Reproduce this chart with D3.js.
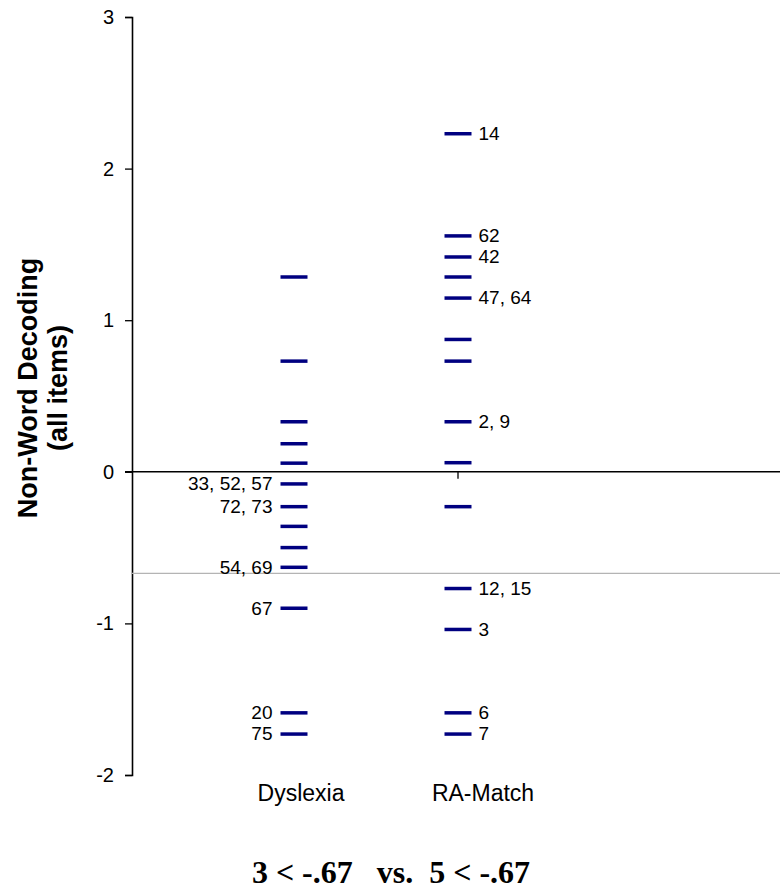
<!DOCTYPE html>
<html>
<head>
<meta charset="utf-8">
<script src="https://cdn.jsdelivr.net/npm/d3@7"></script>
<style>
  body { margin: 0; background: #fff; }
  svg { display: block; font-family: "Liberation Sans", Arial, sans-serif; }
</style>
</head>
<body>
<div class="chart"></div>
<script>
const width = 780;
const height = 893;

// groups on the x axis
const groups = ["Dyslexia", "RA-Match"];

// z scores, with subject labels ("" = no label)
const dyslexiaValues = [1.285, 0.73, 0.33, 0.185, 0.057, -0.08, -0.23, -0.36, -0.50, -0.63, -0.90, -1.59, -1.73];
const dyslexiaLabels = ["", "", "", "", "", "33, 52, 57", "72, 73", "", "", "54, 69", "67", "20", "75"];

const raValues = [2.23, 1.556, 1.417, 1.285, 1.146, 0.873, 0.73, 0.33, 0.06, -0.23, -0.77, -1.04, -1.59, -1.73];
const raLabels = ["14", "62", "42", "", "47, 64", "", "", "2, 9", "", "", "12, 15", "3", "6", "7"];

const yTicks = [-2, -1, 0, 1, 2, 3];
const cutoff = -0.67;
const yTitle = ["Non-Word Decoding", "(all items)"];
const footer = "3 < -.67   vs.  5 < -.67";

const data = [
  ...dyslexiaValues.map((v, i) => ({group: "Dyslexia", value: v, label: dyslexiaLabels[i]})),
  ...raValues.map((v, i) => ({group: "RA-Match", value: v, label: raLabels[i]}))
];

const svg = d3.select(".chart")
  .append("svg")
  .attr("width", width)
  .attr("height", height);

// SCALES
const y = d3.scaleLinear().domain([-2, 3]).range([775, 17]);
const x = d3.scalePoint().domain(groups).range([294, 458]);
const xLabel = d3.scalePoint().domain(groups).range([301, 483]);
const axisX = 132;
const markW = 27;

// y axis
const yAxis = d3.axisLeft(y)
  .tickValues(yTicks)
  .tickFormat(d => String(d))   // plain hyphen, not the unicode minus
  .tickSize(7)
  .tickPadding(11);

const gy = svg.append("g")
  .attr("transform", `translate(${axisX},0)`)
  .call(yAxis);
gy.select(".domain").attr("stroke", "#000").attr("stroke-width", 1.6);
gy.selectAll(".tick line").attr("stroke", "#000").attr("stroke-width", 1.3);
gy.selectAll(".tick text")
  .attr("fill", "#000")
  .style("font-size", "20px")
  .style("font-family", "'Liberation Sans', Arial, sans-serif");

// cutoff line
svg.append("line")
  .attr("x1", axisX).attr("x2", width)
  .attr("y1", y(cutoff)).attr("y2", y(cutoff))
  .attr("stroke", "#b4b4b4")
  .attr("stroke-width", 1.2);

// zero line (x axis)
svg.append("line")
  .attr("x1", axisX - 7).attr("x2", width)
  .attr("y1", y(0)).attr("y2", y(0))
  .attr("stroke", "#000")
  .attr("stroke-width", 1.6);

// x tick under RA-Match
svg.append("line")
  .attr("x1", x("RA-Match")).attr("x2", x("RA-Match"))
  .attr("y1", y(0)).attr("y2", y(0) + 7)
  .attr("stroke", "#000")
  .attr("stroke-width", 1.3);

// marks
svg.selectAll(".mark")
  .data(data)
  .join("line")
  .attr("class", "mark")
  .attr("x1", d => x(d.group) - markW / 2)
  .attr("x2", d => x(d.group) + markW / 2)
  .attr("y1", d => y(d.value))
  .attr("y2", d => y(d.value))
  .attr("stroke", "#000080")
  .attr("stroke-width", 3.5);

// subject labels
svg.selectAll(".lab")
  .data(data.filter(d => d.label !== ""))
  .join("text")
  .attr("class", "lab")
  .attr("x", d => d.group === "Dyslexia" ? x(d.group) - markW / 2 - 8 : x(d.group) + markW / 2 + 7)
  .attr("y", d => y(d.value))
  .attr("dy", "0.33em")
  .attr("text-anchor", d => d.group === "Dyslexia" ? "end" : "start")
  .style("font-size", "19px")
  .text(d => d.label);

// group names
svg.selectAll(".grp")
  .data(groups)
  .join("text")
  .attr("class", "grp")
  .attr("x", d => xLabel(d))
  .attr("y", 801)
  .attr("text-anchor", "middle")
  .style("font-size", "23px")
  .text(d => d);

// y title
const gt = svg.append("g")
  .attr("transform", "translate(0,388) rotate(-90)");
gt.selectAll("text")
  .data(yTitle)
  .join("text")
  .attr("x", 0)
  .attr("y", (d, i) => 37 + i * 30)
  .attr("text-anchor", "middle")
  .style("font-size", "27px")
  .style("font-weight", "bold")
  .text(d => d);

// footer
svg.append("text")
  .attr("x", 391)
  .attr("y", 883)
  .attr("text-anchor", "middle")
  .attr("xml:space", "preserve")
  .style("white-space", "pre")
  .style("font-family", "'Liberation Serif', 'Times New Roman', serif")
  .style("font-weight", "bold")
  .style("font-size", "32px")
  .text(footer);
</script>
</body>
</html>
